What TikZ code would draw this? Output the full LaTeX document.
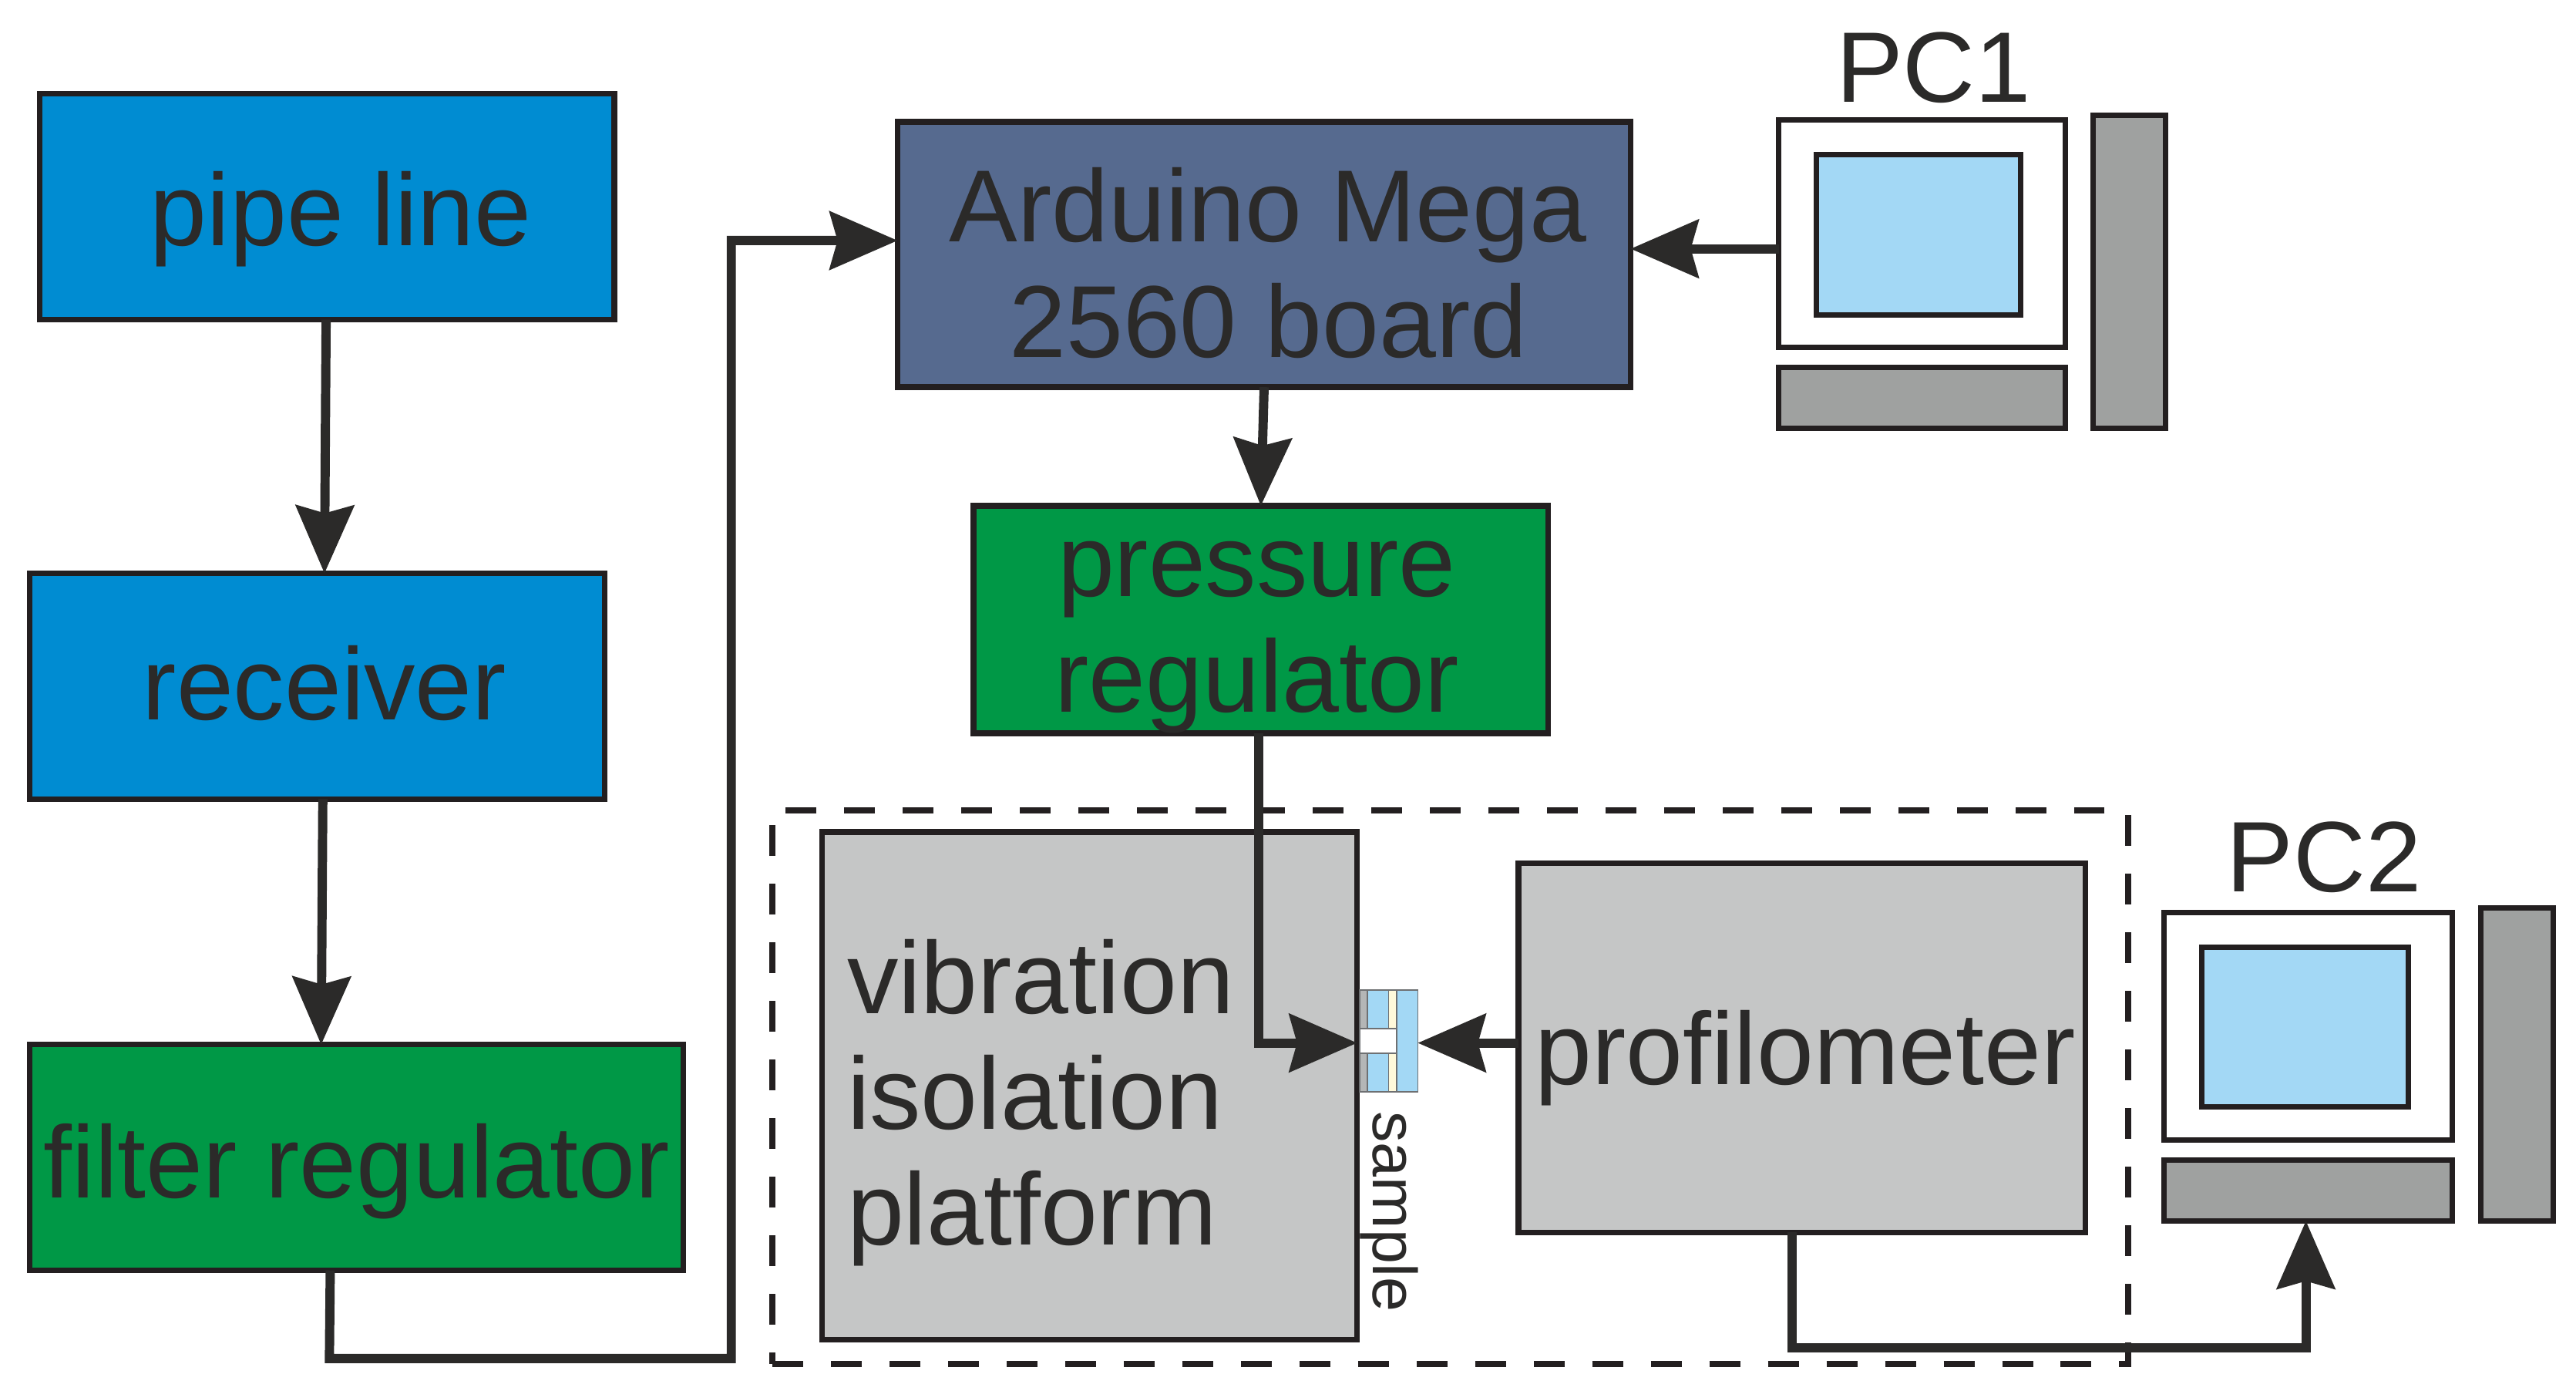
\documentclass[tikz,border=0pt]{standalone}
\usepackage{fontspec}
\setmainfont{Liberation Sans}
\usetikzlibrary{arrows.meta,calc,fit}
\definecolor{pblue}{RGB}{0,140,210}
\definecolor{pgreen}{RGB}{0,152,70}
\definecolor{pslate}{RGB}{86,106,143}
\definecolor{pgrayb}{RGB}{197,198,198}
\definecolor{pgrayd}{RGB}{159,161,160}
\definecolor{pscreen}{RGB}{163,216,245}
\definecolor{pline}{RGB}{35,31,32}
\definecolor{ptext}{RGB}{43,42,41}
\definecolor{pcream}{RGB}{255,249,218}
\definecolor{pstrip}{RGB}{180,182,182}
\definecolor{pedge}{RGB}{110,112,114}
\tikzset{
  box/.style={draw=pline, line width=2.1pt, inner sep=0pt, outer sep=0pt},
  pcpart/.style={draw=pline, line width=2pt, inner sep=0pt, outer sep=0pt},
  lbl/.style={text=ptext, font=\fontsize{37.8}{42.8}\selectfont, inner sep=0pt, anchor=base},
  pclbl/.style={text=ptext, font=\fontsize{37}{42}\selectfont, inner sep=0pt, anchor=base},
  smallbl/.style={text=ptext, font=\fontsize{23}{26}\selectfont, inner sep=0pt},
  conn/.style={draw=ptext, line width=3.4pt, line join=miter,
    -{Stealth[length=0.88cm,width=0.75cm,inset=0.1cm]}},
  encl/.style={draw=pline, line width=2.2pt, dash pattern=on 0.4cm off 0.36cm, inner sep=0pt}
}
\begin{document}
\begin{tikzpicture}[x=0.02137cm,y=-0.02137cm]
\useasboundingbox (0,0) rectangle (1564,844.2);
\fill[white] (0,0) rectangle (1564,844.2);

% enclosure
\node[encl, fit={(469,492) (1292,828)}] (enclosure) {};

% boxes
\node[box, fill=pblue, fit={(24,57) (373,194)}] (pipe) {};
\node[lbl] (pipet) at ($(pipe.center)+(8.5,23.5)$) {pipe line};
\node[box, fill=pblue, fit={(18,348) (367,485)}] (receiver) {};
\node[lbl] (receivert) at ($(receiver.center)+(4.5,20.5)$) {receiver};
\node[box, fill=pgreen, fit={(18,634) (415,771)}] (filter) {};
\node[lbl] (filtert) at ($(filter.center)+(0,24.5)$) {filter regulator};

\node[box, fill=pslate, fit={(545,74) (990,235)}] (arduino) {};
\node[lbl] (arduinot) at ($(arduino.center)+(2.5,-8)$)
  {\begin{tabular}[t]{@{}c@{}}Arduino Mega\\2560 board\end{tabular}};
\node[box, fill=pgreen, fit={(591,307) (940,445)}] (pressure) {};
\node[lbl] (pressuret) at ($(pressure.center)+(-2.5,-14)$)
  {\begin{tabular}[t]{@{}c@{}}pressure\\regulator\end{tabular}};

\node[box, fill=pgrayb, fit={(499,505) (824,813)}] (vib) {};
\node[lbl, anchor=base west] (vibt) at (514,615)
  {\begin{tabular}[t]{@{}l@{}}vibration\\isolation\\platform\end{tabular}};
\node[box, fill=pgrayb, fit={(922,524) (1266,748)}] (prof) {};
\node[lbl] (proft) at ($(prof.center)+(2,22)$) {profilometer};

% sample
\node[inner sep=0pt, outer sep=0pt, fit={(825.5,601) (860.8,662.5)}] (sample) {};
\fill[pstrip] (825.5,601) rectangle (830.3,662.5);
\fill[pscreen] (830.3,601) rectangle (843.1,662.5);
\fill[pcream] (843.1,601) rectangle (848,662.5);
\fill[pscreen] (848,601) rectangle (860.8,662.5);
\fill[white] (825.5,624.4) rectangle (848,639.2);
\draw[pedge, line width=0.5pt]
  (825.5,601) rectangle (860.8,662.5)
  (830.3,601) -- (830.3,624.4) (843.1,601) -- (843.1,624.4)
  (830.3,639.2) -- (830.3,662.5) (843.1,639.2) -- (843.1,662.5)
  (848,601) -- (848,662.5)
  (825.5,624.4) -- (848,624.4) (825.5,639.2) -- (848,639.2);
\node[smallbl, rotate=-90] (samplet) at (843.5,735.5) {sample};

% PC1
\node[pcpart, fill=white, fit={(1080,73) (1254,211)}] (pc1mon) {};
\node[pcpart, fill=pscreen, fit={(1103,94) (1227,191)}] (pc1scr) {};
\node[pcpart, fill=pgrayd, fit={(1080,223) (1254,260)}] (pc1kb) {};
\node[pcpart, fill=pgrayd, fit={(1271,70) (1315,260)}] (pc1tw) {};
\node[pclbl] (pc1t) at (1174,62) {PC1};

% PC2
\node[pcpart, fill=white, fit={(1314,554) (1489,692)}] (pc2mon) {};
\node[pcpart, fill=pscreen, fit={(1337,575) (1462,672)}] (pc2scr) {};
\node[pcpart, fill=pgrayd, fit={(1314,704) (1489,741)}] (pc2kb) {};
\node[pcpart, fill=pgrayd, fit={(1506,551) (1550,741)}] (pc2tw) {};
\node[pclbl] (pc2t) at (1411,541) {PC2};

% connectors
\draw[conn] ($(pipe.south)+(-0.5,0)$) -- ($(receiver.north)+(4.5,0)$);
\draw[conn] ($(receiver.south)+(3.5,0)$) -- ($(filter.north)+(-21.5,0)$);
\coordinate (f1) at (200,824.5);
\coordinate (f2) at (444,824.5);
\draw[conn] ($(filter.south)+(-16,0)$) -- (f1) -- (f2) |- ($(arduino.west)+(0,-8.5)$);
\draw[conn] ($(pc1mon.west)+(0,9)$) -- ($(arduino.east)+(0,-3.5)$);
\draw[conn] (arduino.south) -- (pressure.north);
\draw[conn] ($(pressure.south)+(-1.5,0)$) |- ($(vib.east)+(0,-26)$);
\draw[conn] ($(prof.west)+(0,-3)$) -- ($(sample.east)+(0,1.25)$);
\coordinate (p1) at (1088,818);
\draw[conn] ($(prof.south)+(-6,0)$) -- (p1) -| ($(pc2kb.south)+(-1.5,0)$);
\end{tikzpicture}
\end{document}
